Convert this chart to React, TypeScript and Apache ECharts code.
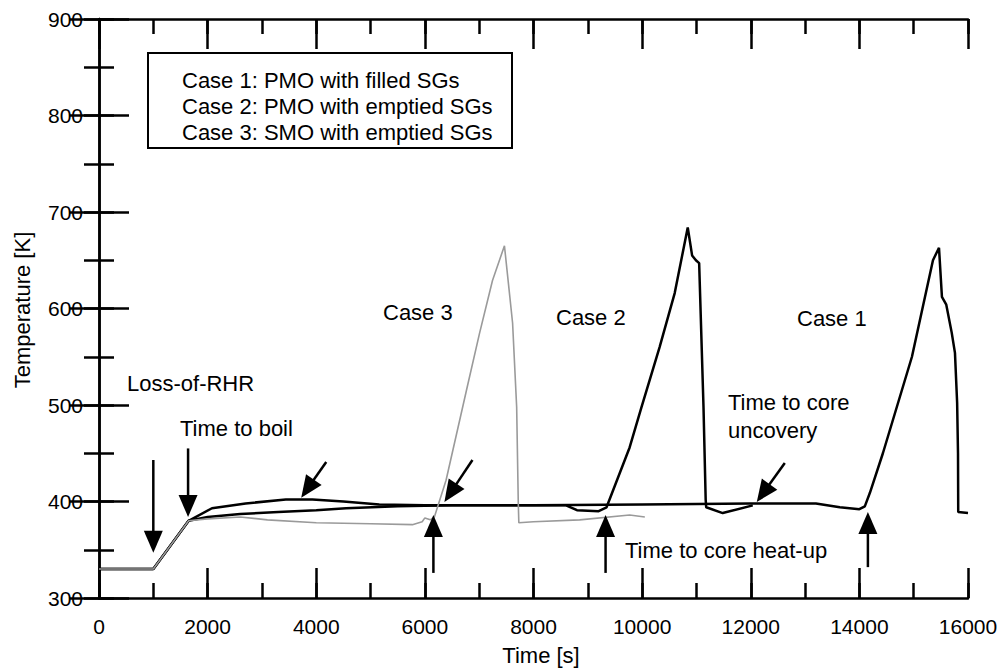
import React, { useEffect, useRef } from "react";
import * as echarts from "echarts";

// Time [s], Temperature [K]
const case1: number[][] = [
  [0, 330], [1000, 330], [1650, 380], [2080, 393], [2700, 398], [3440, 402], [3930, 402],
  [4500, 400], [5160, 397], [6000, 396], [8000, 396], [10000, 397], [12000, 398], [13200, 398],
  [13640, 394], [14000, 392], [14100, 395], [14194, 409], [14433, 450], [14968, 550],
  [15355, 650], [15466, 663], [15520, 612], [15600, 604], [15700, 575], [15760, 554],
  [15800, 502], [15816, 450], [15820, 389], [16000, 388],
];
const case2: number[][] = [
  [0, 330], [1000, 330], [1650, 380], [2000, 384], [2600, 387], [3300, 389], [4000, 391],
  [4550, 393], [5500, 395], [6500, 396], [8000, 396], [8600, 396], [8800, 391], [9200, 390],
  [9345, 394], [9770, 456], [9990, 498], [10322, 560], [10600, 616], [10840, 684],
  [10920, 655], [10990, 650], [11050, 647], [11130, 498], [11170, 402], [11180, 394],
  [11484, 388], [12037, 396],
];
const case3: number[][] = [
  [0, 330], [1000, 330], [1650, 380], [2000, 382], [2600, 384], [3100, 381], [4000, 378],
  [5000, 377], [5770, 376], [5950, 379], [6000, 383], [6100, 381], [6175, 384], [6390, 422],
  [6765, 515], [7005, 574], [7245, 629], [7465, 665], [7615, 585], [7690, 498], [7720, 398],
  [7730, 378], [8000, 379], [8850, 381], [9770, 386], [10050, 384],
];
// arrows: [fromTime, fromTemp, toTime, toTemp]
const arrows: number[][] = [
  [1000, 443, 1000, 347],
  [1640, 455, 1640, 384],
  [4184, 441, 3723, 404],
  [6876, 443, 6359, 399.5],
  [6157, 326, 6157, 386],
  [9327, 326, 9327, 386],
  [12627, 440, 12111, 399.5],
  [14157, 332, 14157, 389],
];
const legendLines = [
  "Case 1: PMO with filled SGs",
  "Case 2: PMO with emptied SGs",
  "Case 3: SMO with emptied SGs",
];

const X_MIN = 0, X_MAX = 16000, X_MAJOR = 2000, X_MINOR = 1000;
const Y_MIN = 300, Y_MAX = 900, Y_MAJOR = 100, Y_MINOR = 50;

const FONT = "Liberation Sans";

export default function App() {
  const ref = useRef<HTMLDivElement>(null);
  useEffect(() => {
    const chart = echarts.init(ref.current!, null, { renderer: "svg" });
    const mkAxis = (len: number, line: boolean, extra: any) => ({
      type: "value",
      axisLine: { show: line, lineStyle: { color: "#000", width: 2.5 } },
      axisTick: { show: true, inside: true, length: len, lineStyle: { color: "#000", width: 2.5 } },
      minorTick: { show: false },
      splitLine: { show: false },
      minorSplitLine: { show: false },
      axisLabel: { show: false },
      ...extra,
    });
    const label = {
      show: true,
      color: "#000",
      fontSize: 21,
      fontFamily: FONT,
      formatter: (v: number) => String(v),
    };
    const xr = { min: X_MIN, max: X_MAX };
    const yr = { min: Y_MIN, max: Y_MAX };
    const text = (t: string, x: number, y: number, extra: any = {}) => ({
      type: "text",
      x,
      y,
      z: 100,
      ...extra,
      style: {
        text: t,
        fontSize: 22,
        fontFamily: FONT,
        fill: "#000",
        align: "left",
        verticalAlign: "middle",
        ...(extra.style || {}),
      },
    });
    chart.setOption({
      animation: false,
      backgroundColor: "#fff",
      grid: { left: 99, right: 36, top: 19, bottom: 71, outerBoundsMode: "none" },
      xAxis: [
        mkAxis(30, true, { ...xr, interval: X_MAJOR, position: "bottom", axisLabel: { ...label, margin: 18 } }),
        mkAxis(30, true, { ...xr, interval: X_MAJOR, position: "top" }),
        mkAxis(15, false, { ...xr, interval: X_MINOR, position: "bottom" }),
        mkAxis(15, false, { ...xr, interval: X_MINOR, position: "top" }),
      ],
      yAxis: [
        mkAxis(30, true, { ...yr, interval: Y_MAJOR, position: "left", axisLabel: { ...label, margin: 16 } }),
        mkAxis(30, true, { ...yr, interval: Y_MAJOR, position: "right" }),
        mkAxis(15, false, { ...yr, interval: Y_MINOR, position: "left" }),
        mkAxis(15, false, { ...yr, interval: Y_MINOR, position: "right" }),
      ],
      series: [
        { type: "line", data: case1, showSymbol: false, lineStyle: { color: "#000", width: 2.5 }, z: 3 },
        { type: "line", data: case2, showSymbol: false, lineStyle: { color: "#000", width: 2.5 }, z: 3 },
        { type: "line", data: case3, showSymbol: false, lineStyle: { color: "#9a9a9a", width: 1.6 }, z: 4 },
        {
          type: "custom",
          silent: true,
          z: 5,
          data: arrows,
          encode: { x: [0, 2], y: [1, 3] },
          renderItem: (_params: any, api: any) => {
            const p1 = api.coord([api.value(0), api.value(1)]);
            const p2 = api.coord([api.value(2), api.value(3)]);
            const dx = p2[0] - p1[0];
            const dy = p2[1] - p1[1];
            const len = Math.hypot(dx, dy);
            const ux = dx / len;
            const uy = dy / len;
            const headLen = 22;
            const headW = 9.5;
            const bx = p2[0] - ux * headLen;
            const by = p2[1] - uy * headLen;
            const nx = -uy;
            const ny = ux;
            return {
              type: "group",
              children: [
                { type: "line", shape: { x1: p1[0], y1: p1[1], x2: bx + ux * 2, y2: by + uy * 2 },
                  style: { stroke: "#000", lineWidth: 2.5 } },
                { type: "polygon",
                  shape: { points: [[p2[0], p2[1]], [bx + nx * headW, by + ny * headW], [bx - nx * headW, by - ny * headW]] },
                  style: { fill: "#000" } },
              ],
            };
          },
        },
      ],
      graphic: [
        { type: "rect", z: 90, shape: { x: 148, y: 53, width: 364, height: 95 },
          style: { fill: "#fff", stroke: "#000", lineWidth: 2 } },
        ...legendLines.map((t, i) => text(t, 182, 80 + i * 26)),
        text("Case 3", 383, 312),
        text("Case 2", 556, 317),
        text("Case 1", 797, 318),
        text("Loss-of-RHR", 127, 383),
        text("Time to boil", 180, 428),
        text("Time to core", 728, 402),
        text("uncovery", 728, 430),
        text("Time to core heat-up", 625, 550),
        text("Time [s]", 541, 655, { style: { align: "center" } }),
        text("Temperature [K]", 22, 310, { rotation: Math.PI / 2, style: { align: "center" } }),
      ],
    });
    return () => chart.dispose();
  }, []);
  return (
    <div
      ref={ref}
      style={{ position: "absolute", left: 0, top: 0, width: 1004, height: 669, background: "#fff" }}
    />
  );
}
